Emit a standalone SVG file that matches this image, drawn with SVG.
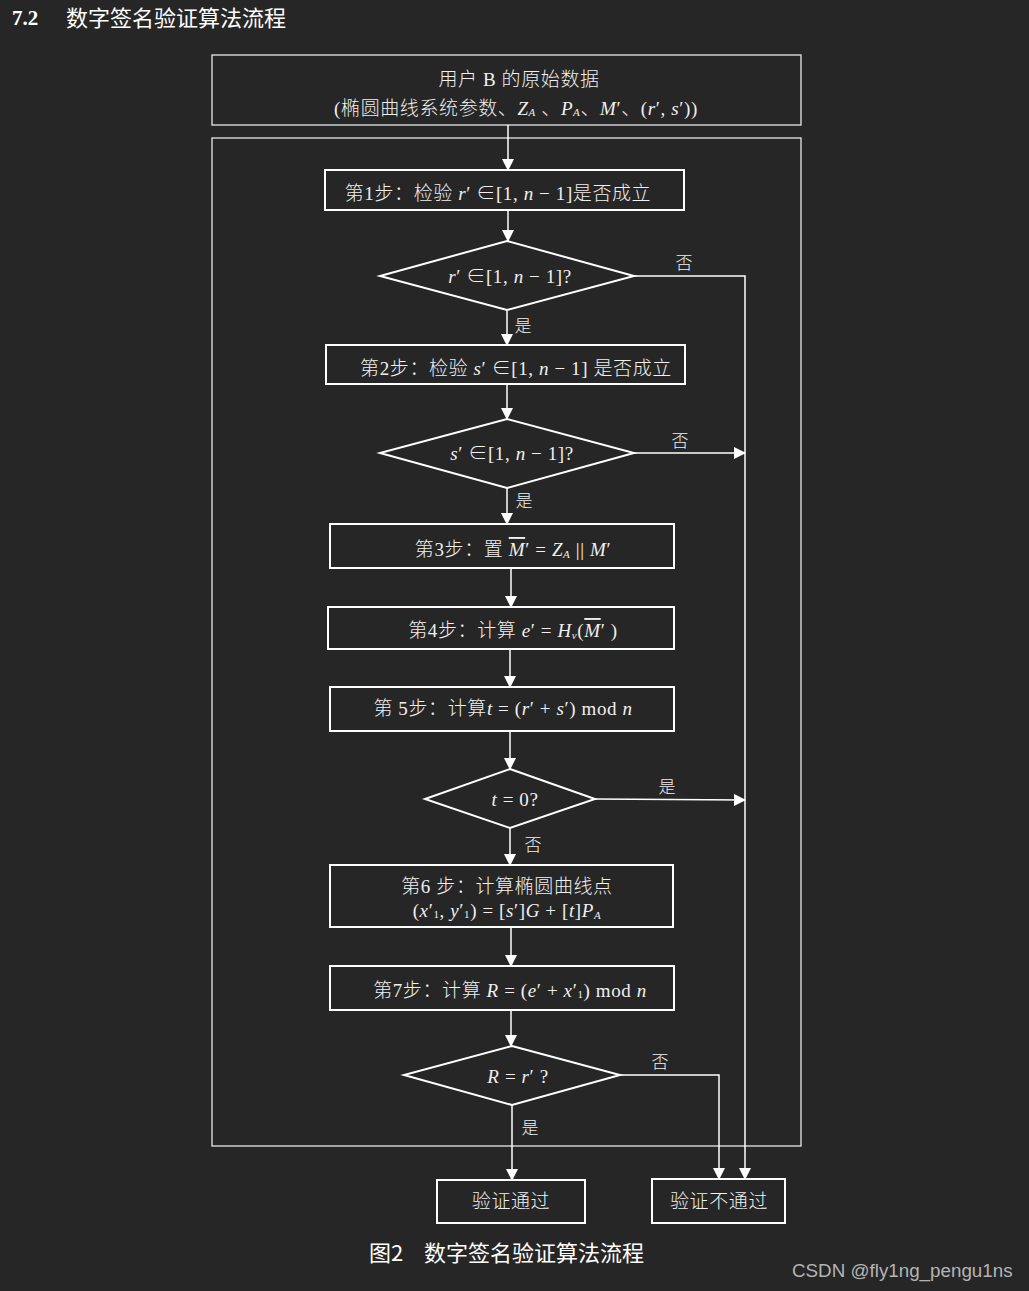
<svg xmlns="http://www.w3.org/2000/svg" width="1029" height="1291" viewBox="0 0 1029 1291">
<defs>
<style>
.bg{fill:#262626}
.box{fill:none;stroke:#ffffff;stroke-width:2}
.frame{fill:none;stroke:#e8e8e8;stroke-width:1.3}
.con{fill:none;stroke:#ffffff;stroke-width:1.5}
.t{font-family:"Liberation Serif","Noto Sans CJK SC",serif;font-size:19px;font-weight:300;fill:#f0f0f0;text-anchor:middle;dominant-baseline:central;letter-spacing:0.6px}
.lbl{font-family:"Noto Sans CJK SC","Liberation Serif",serif;font-size:17px;font-weight:300;fill:#f0f0f0;text-anchor:middle;dominant-baseline:central}
.i{font-style:italic}
.sub{font-size:11px;font-style:italic}
.sn{font-size:11px;font-style:normal}
.ov{text-decoration:overline}
.hd{font-family:"Noto Sans CJK SC",sans-serif;font-size:22px;fill:#ffffff}
</style>
<marker id="ah" viewBox="0 0 12 12" refX="11" refY="6" markerWidth="12" markerHeight="12" markerUnits="userSpaceOnUse" orient="auto">
<path d="M0,0 L12,6 L0,12 Z" fill="#ffffff"/>
</marker>
</defs>
<rect class="bg" x="0" y="0" width="1029" height="1291"/>

<g id="title">
<text x="12" y="25" style="font-family:'Liberation Serif',serif;font-weight:bold;font-size:21px;fill:#ffffff">7.2</text>
<text class="hd" x="66" y="26">数字签名验证算法流程</text>
</g>

<g id="container">
<rect class="frame" x="212" y="138" width="589" height="1008"/>
</g>

<g id="input">
<rect class="frame" x="212" y="55" width="589" height="70"/>
<text class="t" x="519" y="79">用户 B 的原始数据</text>
<text class="t" x="516" y="108">(椭圆曲线系统参数、<tspan class="i">Z</tspan><tspan class="sub" dy="4">A</tspan><tspan dy="-4"> 、</tspan><tspan class="i">P</tspan><tspan class="sub" dy="4">A</tspan><tspan dy="-4">、</tspan><tspan class="i">M</tspan>′、(<tspan class="i">r</tspan>′, <tspan class="i">s</tspan>′))</text>
</g>

<g id="connectors">
<line class="con" x1="508" y1="125" x2="508" y2="170" marker-end="url(#ah)"/>
<line class="con" x1="508" y1="210" x2="508" y2="241" marker-end="url(#ah)"/>
<polyline class="con" points="634,276 745,276 745,1179" marker-end="url(#ah)"/>
<line class="con" x1="507" y1="310" x2="507" y2="345" marker-end="url(#ah)"/>
<line class="con" x1="507" y1="384" x2="507" y2="419" marker-end="url(#ah)"/>
<line class="con" x1="634" y1="453" x2="745" y2="453" marker-end="url(#ah)"/>
<line class="con" x1="507" y1="488" x2="507" y2="524" marker-end="url(#ah)"/>
<line class="con" x1="511" y1="568" x2="511" y2="607" marker-end="url(#ah)"/>
<line class="con" x1="510" y1="649" x2="510" y2="687" marker-end="url(#ah)"/>
<line class="con" x1="510" y1="731" x2="510" y2="769" marker-end="url(#ah)"/>
<line class="con" x1="595" y1="799" x2="745" y2="800" marker-end="url(#ah)"/>
<line class="con" x1="510" y1="828" x2="510" y2="865" marker-end="url(#ah)"/>
<line class="con" x1="511" y1="927" x2="511" y2="966" marker-end="url(#ah)"/>
<line class="con" x1="511" y1="1010" x2="511" y2="1046" marker-end="url(#ah)"/>
<polyline class="con" points="620,1075 719,1075 719,1179" marker-end="url(#ah)"/>
<line class="con" x1="512" y1="1105" x2="512" y2="1180" marker-end="url(#ah)"/>
<text class="lbl" x="684" y="261">否</text>
<text class="lbl" x="523" y="324">是</text>
<text class="lbl" x="680" y="439">否</text>
<text class="lbl" x="524" y="499">是</text>
<text class="lbl" x="667" y="785">是</text>
<text class="lbl" x="533" y="843">否</text>
<text class="lbl" x="660" y="1060">否</text>
<text class="lbl" x="530" y="1126">是</text>
</g>

<g id="step1">
<rect class="box" x="325" y="170" width="359" height="40"/>
<text class="t" x="498" y="193">第1步：检验 <tspan class="i">r</tspan>′ ∈[1, <tspan class="i">n</tspan> − 1]是否成立</text>
</g>

<g id="dec1">
<polygon class="box" points="507,241 634,276 507,310 380,276"/>
<text class="t" x="510" y="276"><tspan class="i">r</tspan>′ ∈[1, <tspan class="i">n</tspan> − 1]?</text>
</g>

<g id="step2">
<rect class="box" x="326" y="345" width="359" height="39"/>
<text class="t" x="516" y="368">第2步：检验 <tspan class="i">s</tspan>′ ∈[1, <tspan class="i">n</tspan> − 1] 是否成立</text>
</g>

<g id="dec2">
<polygon class="box" points="507,419 634,453 507,488 380,453"/>
<text class="t" x="512" y="453"><tspan class="i">s</tspan>′ ∈[1, <tspan class="i">n</tspan> − 1]?</text>
</g>

<g id="step3">
<rect class="box" x="330" y="524" width="344" height="44"/>
<text class="t" x="513" y="549">第3步：置 <tspan class="i ov">M</tspan>′ = <tspan class="i">Z</tspan><tspan class="sub" dy="5">A</tspan><tspan dy="-5"> || </tspan><tspan class="i">M</tspan>′</text>
</g>

<g id="step4">
<rect class="box" x="328" y="607" width="346" height="42"/>
<text class="t" x="513" y="630">第4步：计算 <tspan class="i">e</tspan>′ = <tspan class="i">H</tspan><tspan class="sub" dy="5">v</tspan><tspan dy="-5">(</tspan><tspan class="i ov">M</tspan>′ )</text>
</g>

<g id="step5">
<rect class="box" x="330" y="687" width="344" height="44"/>
<text class="t" x="503" y="708">第 5步：计算<tspan class="i">t</tspan> = (<tspan class="i">r</tspan>′ + <tspan class="i">s</tspan>′) mod <tspan class="i">n</tspan></text>
</g>

<g id="dec3">
<polygon class="box" points="510,769 595,799 510,828 425,799"/>
<text class="t" x="515" y="799"><tspan class="i">t</tspan> = 0?</text>
</g>

<g id="step6">
<rect class="box" x="330" y="865" width="343" height="62"/>
<text class="t" x="507" y="886">第6 步：计算椭圆曲线点</text>
<text class="t" x="507" y="910">(<tspan class="i">x</tspan>′<tspan class="sn" dy="4">1</tspan><tspan dy="-4">, </tspan><tspan class="i">y</tspan>′<tspan class="sn" dy="4">1</tspan><tspan dy="-4">) = [</tspan><tspan class="i">s</tspan>′]<tspan class="i">G</tspan> + [<tspan class="i">t</tspan>]<tspan class="i">P</tspan><tspan class="sub" dy="5">A</tspan></text>
</g>

<g id="step7">
<rect class="box" x="330" y="966" width="344" height="44"/>
<text class="t" x="510" y="990">第7步：计算 <tspan class="i">R</tspan> = (<tspan class="i">e</tspan>′ + <tspan class="i">x</tspan>′<tspan class="sn" dy="4">1</tspan><tspan dy="-4">) mod </tspan><tspan class="i">n</tspan></text>
</g>

<g id="dec4">
<polygon class="box" points="512,1046 620,1075 512,1105 404,1075"/>
<text class="t" x="518" y="1076"><tspan class="i">R</tspan> = <tspan class="i">r</tspan>′ ?</text>
</g>

<g id="pass">
<rect class="box" x="437" y="1180" width="148" height="43"/>
<text class="t" x="511" y="1201">验证通过</text>
</g>

<g id="fail">
<rect class="box" x="652" y="1179" width="133" height="44"/>
<text class="t" x="719" y="1201">验证不通过</text>
</g>

<g id="caption">
<text class="hd" x="369" y="1261">图2<tspan x="424">数字签名验证算法流程</tspan></text>
</g>

<g id="watermark">
<text x="792" y="1277" style="font-family:'Liberation Sans',sans-serif;font-size:18.8px;fill:#b4b4b4">CSDN @fly1ng_pengu1ns</text>
</g>
</svg>
